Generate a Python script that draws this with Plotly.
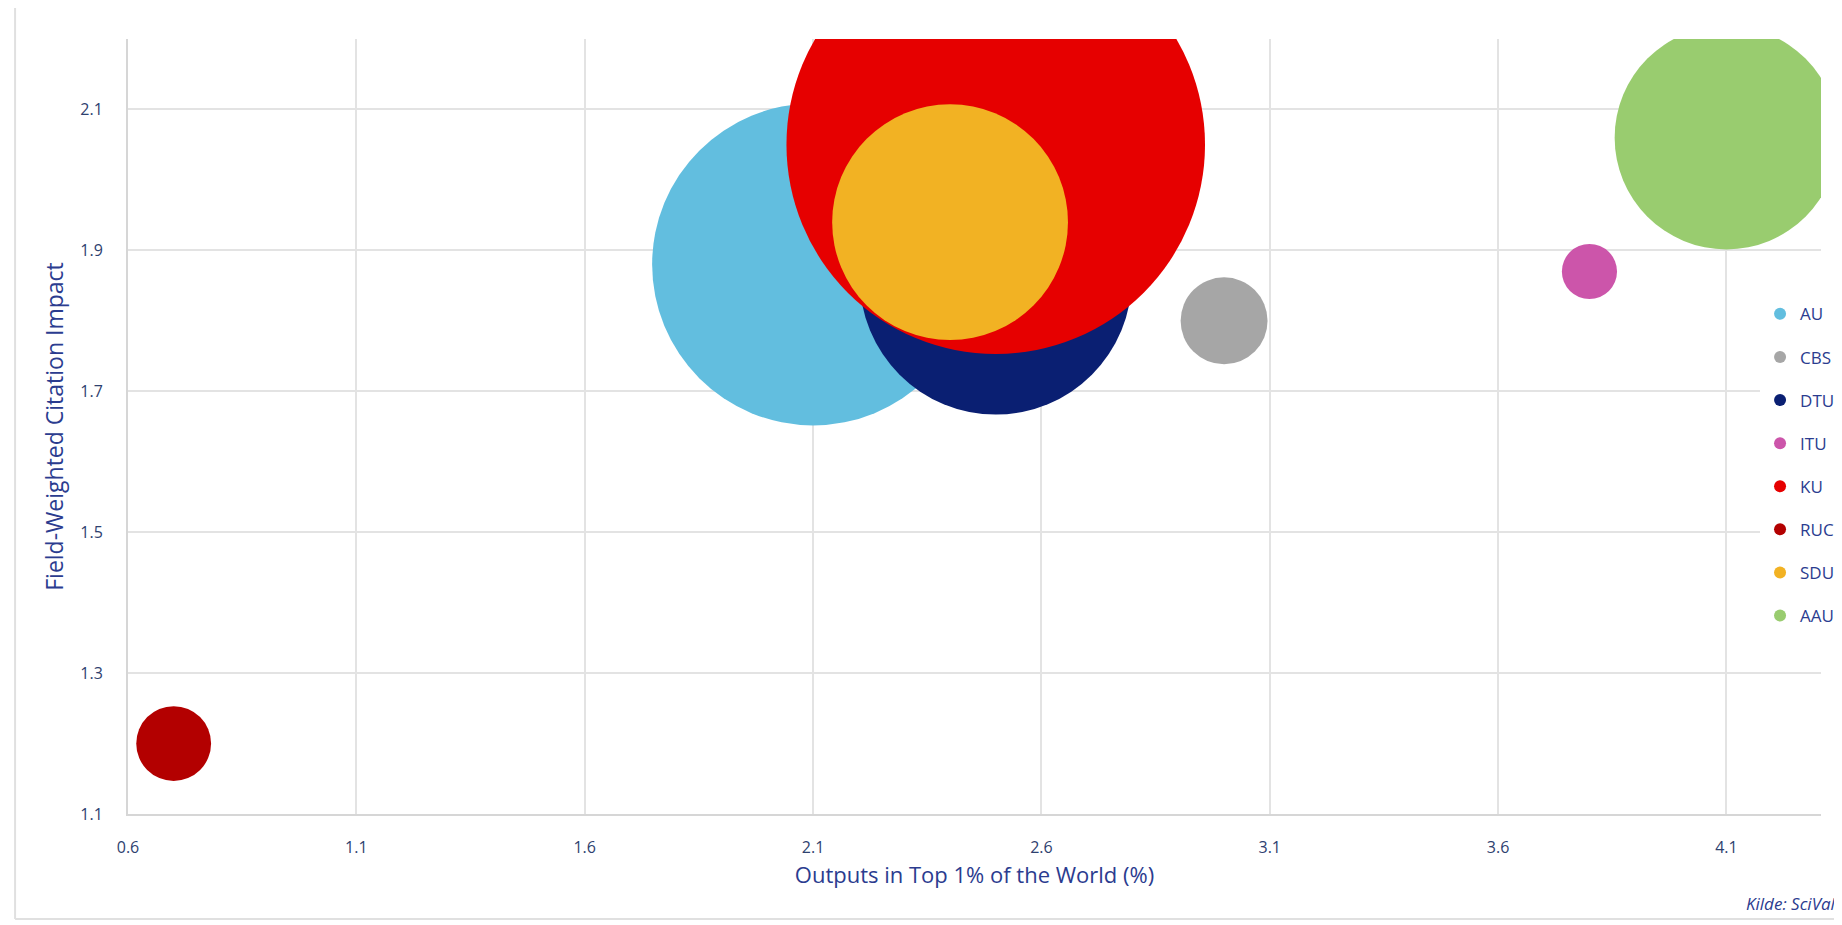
import plotly.graph_objects as go

# Data
universities = ["AU", "CBS", "DTU", "ITU", "KU", "RUC", "SDU", "AAU"]
top1_pct = [2.1, 3.0, 2.5, 3.8, 2.5, 0.7, 2.4, 4.1]          # Outputs in Top 1% of the World (%)
fwci = [1.88, 1.80, 1.86, 1.87, 2.05, 1.20, 1.94, 2.06]       # Field-Weighted Citation Impact
volume = [25900, 1890, 18500, 760, 43800, 1400, 13900, 12500]  # bubble size (scholarly output)
colors = ["#62bedf", "#a6a6a6", "#0a1f72", "#cc55aa", "#e60000", "#b30000", "#f2b223", "#99cc6f"]

x_ticks = [0.6, 1.1, 1.6, 2.1, 2.6, 3.1, 3.6, 4.1]
y_ticks = [1.1, 1.3, 1.5, 1.7, 1.9, 2.1]

TEXT = "#2b3c8f"
TICK = "#2e416f"
FONT = "Open Sans, Roboto, sans-serif"

fig = go.Figure()
for name, x, y, v, c in zip(universities, top1_pct, fwci, volume, colors):
    fig.add_trace(go.Scatter(
        x=[x], y=[y], name=name, mode="markers",
        legendgroup=name,
        marker=dict(size=[v], sizemode="area", sizeref=0.5, color=c,
                    line=dict(width=0), opacity=1),
        cliponaxis=True,
    ))

fig.update_layout(
    width=1834, height=917,
    margin=dict(l=120, r=21, t=31, b=111, autoexpand=False),
    paper_bgcolor="white", plot_bgcolor="white",
    font=dict(family=FONT, color=TEXT),
    showlegend=True,
    legend=dict(
        x=0.964, xanchor="left", y=0.668, yanchor="top",
        bgcolor="white", borderwidth=0,
        font=dict(size=17, color=TEXT, family=FONT),
        itemsizing="constant", tracegroupgap=18,
        traceorder="grouped",
    ),
    xaxis=dict(
        range=[0.6, 4.307], tickmode="array", tickvals=x_ticks,
        ticktext=[f"{t:.1f}" for t in x_ticks],
        showgrid=True, gridcolor="#e3e3e3", gridwidth=1.5,
        showline=True, linecolor="#d6d6d6", linewidth=2,
        zeroline=False, ticks="", ticklabelstandoff=18,
        tickfont=dict(size=16, color=TICK, family=FONT),
        title=dict(text="Outputs in Top 1% of the World (%)", standoff=10,
                   font=dict(size=22, color=TEXT, family=FONT)),
        automargin=False,
    ),
    yaxis=dict(
        range=[1.1, 2.2], tickmode="array", tickvals=y_ticks,
        ticktext=[f"{t:.1f}" for t in y_ticks],
        showgrid=True, gridcolor="#e3e3e3", gridwidth=1.5,
        showline=True, linecolor="#d6d6d6", linewidth=2,
        zeroline=False, ticks="", ticklabelstandoff=20,
        tickfont=dict(size=16, color=TICK, family=FONT),
        title=dict(text="Field-Weighted Citation Impact", standoff=10,
                   font=dict(size=23, color=TEXT, family=FONT)),
        automargin=False,
    ),
    shapes=[
        dict(type="line", xref="paper", yref="paper", x0=-0.0667, x1=-0.0667,
             y0=1.06, y1=-0.1355, line=dict(color="#e0e0e0", width=2)),
        dict(type="line", xref="paper", yref="paper", x0=-0.0667, x1=1.05,
             y0=-0.1355, y1=-0.1355, line=dict(color="#e0e0e0", width=2)),
    ],
    annotations=[
        dict(text="Kilde: SciVal", xref="paper", yref="paper", x=0.9545, y=-0.116,
             xanchor="left", yanchor="middle", showarrow=False,
             font=dict(size=17, color=TEXT, family=FONT, style="italic")),
    ],
)

fig.write_html("out.html")
